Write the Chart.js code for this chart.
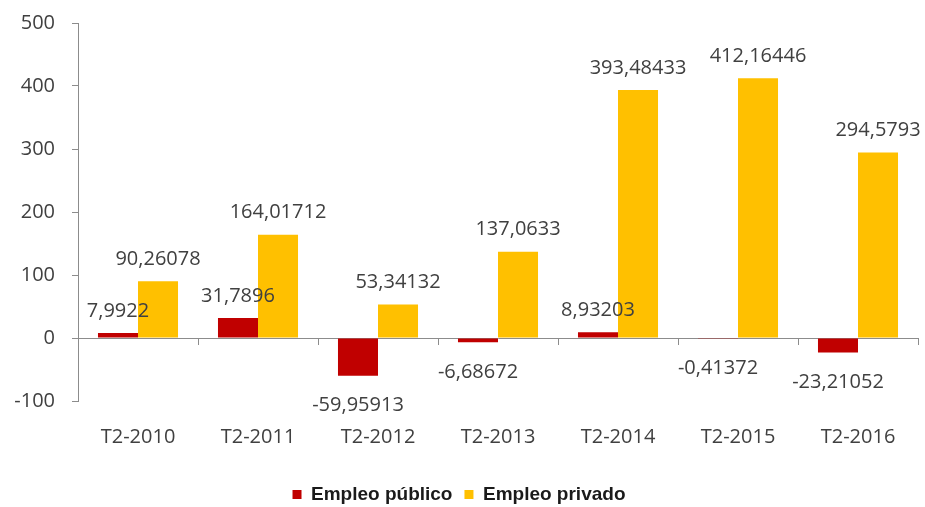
<!DOCTYPE html>
<html>
<head>
<meta charset="utf-8">
<script src="https://cdn.jsdelivr.net/npm/chart.js@4"></script>
<style>
  body { margin: 0; background: #fff; }
  #wrap { width: 925px; height: 507px; }
</style>
</head>
<body>
<div id="wrap"><canvas id="barChart" width="925" height="507"></canvas></div>
<script>
const categories = ["T2-2010", "T2-2011", "T2-2012", "T2-2013", "T2-2014", "T2-2015", "T2-2016"];
const empleoPublico = [7.9922, 31.7896, -59.95913, -6.68672, 8.93203, -0.41372, -23.21052];
const empleoPrivado = [90.26078, 164.01712, 53.34132, 137.0633, 393.48433, 412.16446, 294.5793];
const seriesNames = ["Empleo público", "Empleo privado"];

const textColor = "#404040";
const axisColor = "#8c8c8c";
const fontFamily = "'Open Sans', sans-serif";

// etiquetas de valor al estilo Excel (coma decimal)
const valueLabels = {
  id: "valueLabels",
  afterDatasetsDraw(chart) {
    const ctx = chart.ctx;
    ctx.save();
    ctx.font = "20px " + fontFamily;
    ctx.fillStyle = textColor;
    ctx.textAlign = "center";
    ctx.textBaseline = "middle";
    chart.data.datasets.forEach((ds, i) => {
      const meta = chart.getDatasetMeta(i);
      meta.data.forEach((bar, j) => {
        const v = ds.data[j];
        const txt = String(v).replace(".", ",");
        const y = v >= 0 ? bar.y - 22 : bar.y + 30;
        ctx.fillText(txt, bar.x, y);
      });
    });
    ctx.restore();
  },
};

const ctx = document.getElementById("barChart");
new Chart(ctx, {
  type: "bar",
  data: {
    labels: categories,
    datasets: [
      {
        label: seriesNames[0],
        data: empleoPublico,
        backgroundColor: "#c00000",
        borderWidth: 0,
      },
      {
        label: seriesNames[1],
        data: empleoPrivado,
        backgroundColor: "#ffc000",
        borderWidth: 0,
      },
    ],
  },
  plugins: [valueLabels],
  options: {
    responsive: false,
    animation: false,
    categoryPercentage: 0.667,
    barPercentage: 1,
    layout: {
      padding: { left: 0, right: 7, top: 23, bottom: -7 },
    },
    scales: {
      x: {
        position: "bottom",
        grid: { display: false, drawTicks: false },
        border: { display: false },
        ticks: {
          color: textColor,
          font: { family: fontFamily, size: 20 },
          padding: 24,
          maxRotation: 0,
        },
      },
      x0: {
        type: "category",
        position: { y: 0 },
        offset: true,
        grid: {
          offset: true,
          drawOnChartArea: false,
          drawTicks: true,
          tickLength: 6,
          color: axisColor,
        },
        border: { color: axisColor, width: 1 },
        ticks: { display: false },
      },
      y: {
        min: -100,
        max: 500,
        afterFit(scale) {
          scale.width = 78;
          scale.paddingTop = 0;
          scale.paddingBottom = 0;
        },
        ticks: {
          stepSize: 100,
          color: textColor,
          font: { family: fontFamily, size: 20 },
          padding: 17,
        },
        grid: {
          drawOnChartArea: false,
          drawTicks: true,
          tickLength: 6,
          color: axisColor,
        },
        border: { color: axisColor, width: 1 },
      },
    },
    plugins: {
      legend: {
        position: "bottom",
        labels: {
          boxWidth: 9,
          boxHeight: 9,
          padding: 12,
          color: "#1a1a1a",
          font: { family: "'Liberation Sans', Arial, sans-serif", size: 19, weight: "bold" },
        },
      },
      tooltip: { enabled: false },
    },
  },
});
</script>
</body>
</html>
